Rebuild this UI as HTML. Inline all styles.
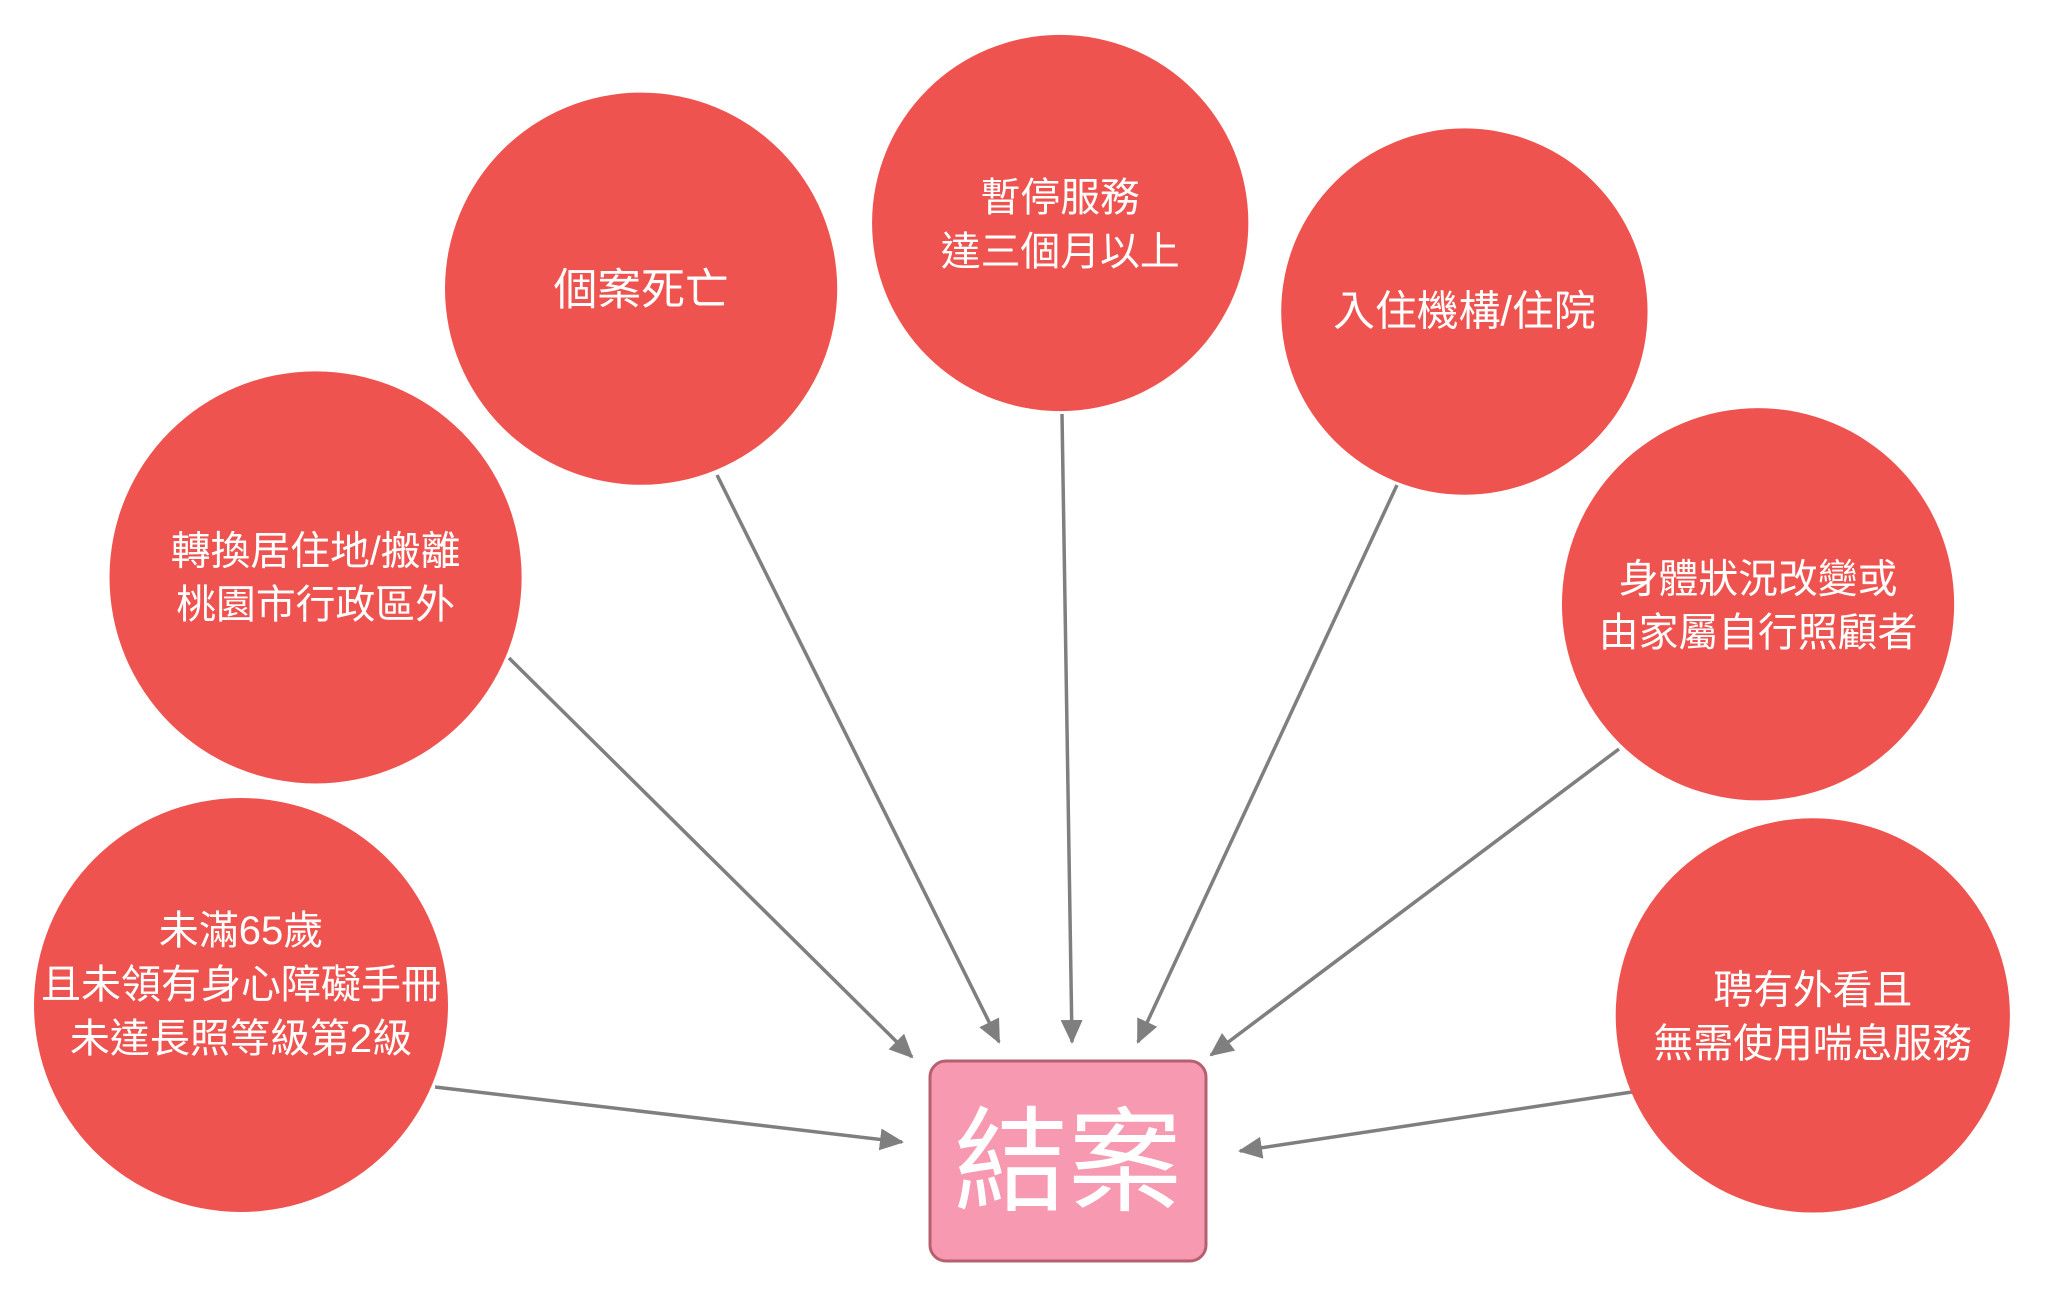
<!DOCTYPE html>
<html><head><meta charset="utf-8"><style>
body{margin:0;background:#fff;}
svg text{font-family:"Liberation Sans","Noto Sans CJK TC",sans-serif;fill:#fff;text-anchor:middle;}
</style></head><body>
<svg width="2046" height="1298" viewBox="0 0 2046 1298" xmlns="http://www.w3.org/2000/svg">
<defs>
<marker id="b" markerWidth="24" markerHeight="22" refX="22" refY="11" orient="auto" markerUnits="userSpaceOnUse"><path d="M0,0 L24,11 L0,22 z" fill="#7f7f7f"/></marker></defs>
<g stroke="#7f7f7f" stroke-width="3.5" fill="none" marker-end="url(#b)">
<line x1="435" y1="1087" x2="902" y2="1142"/>
<line x1="509" y1="658" x2="912" y2="1057"/>
<line x1="717" y1="475" x2="999" y2="1042"/>
<line x1="1062" y1="414" x2="1072" y2="1042"/>
<line x1="1397" y1="485" x2="1138" y2="1042"/>
<line x1="1619" y1="749" x2="1211" y2="1055"/>
<line x1="1632" y1="1092" x2="1240" y2="1151"/>
</g>
<circle cx="241" cy="1005" r="207" fill="#EF5350"/>
<g font-size="40">
<text x="241" y="944">未滿65歲</text>
<text x="241" y="998">且未領有身心障礙手冊</text>
<text x="241" y="1052">未達長照等級第2級</text>
</g>
<g transform="scale(0.9955)">
<g fill="#EF5350">
<circle cx="317" cy="580" r="207"/>
<circle cx="644" cy="290" r="197"/>
<circle cx="1065" cy="224" r="189"/>
<circle cx="1471" cy="313" r="184"/>
<circle cx="1766" cy="607" r="197"/>
<circle cx="1821" cy="1020" r="198"/>
</g>
<g font-size="40">
<text x="317" y="567">轉換居住地/搬離</text>
<text x="317" y="621">桃園市行政區外</text>
<text x="644" y="306" font-size="44">個案死亡</text>
<text x="1065" y="212">暫停服務</text>
<text x="1065" y="266">達三個月以上</text>
<text x="1471" y="327" font-size="42">入住機構/住院</text>
<text x="1766" y="595">身體狀況改變或</text>
<text x="1766" y="649">由家屬自行照顧者</text>
<text x="1821" y="1008">聘有外看且</text>
<text x="1821" y="1062">無需使用喘息服務</text>
</g>
</g>
<rect x="930" y="1061" width="276" height="200" rx="16" fill="#F799B0" stroke="#B5606F" stroke-width="3"/>
<text x="1068" y="1202" font-size="114">結案</text>
</svg>
</body></html>
